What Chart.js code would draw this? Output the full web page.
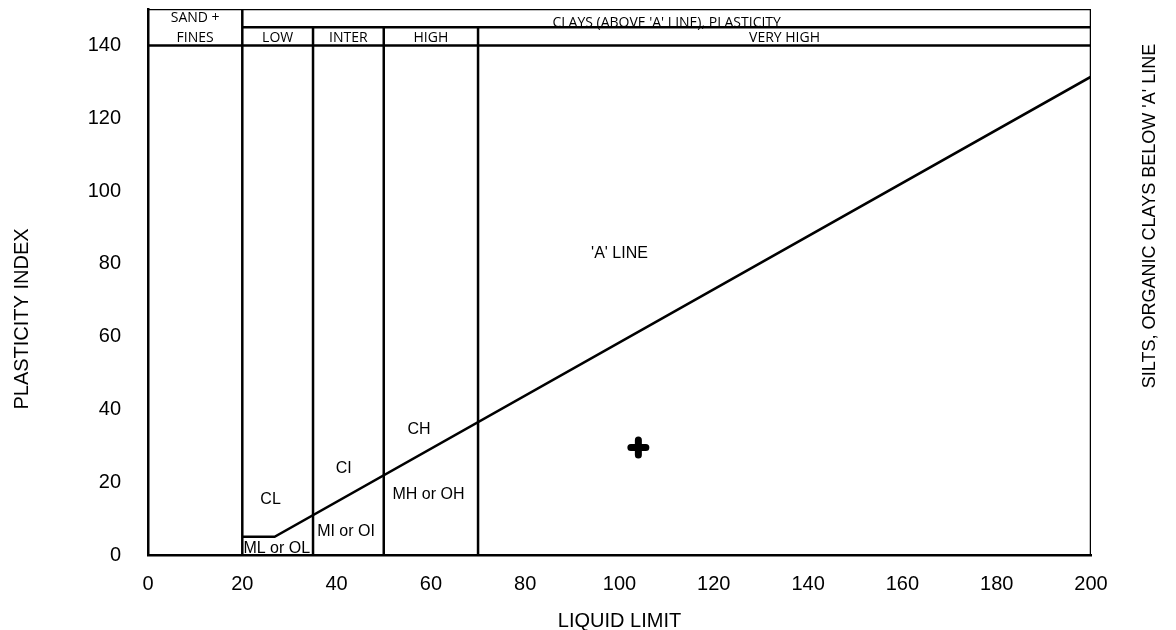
<!DOCTYPE html>
<html>
<head>
<meta charset="utf-8">
<script src="https://cdn.jsdelivr.net/npm/chart.js@4/dist/chart.umd.min.js"></script>
<style>
  body { margin: 0; background: #fff; }
  #wrap { width: 1176px; height: 630px; }
</style>
</head>
<body>
<div id="wrap"><canvas id="plasticity" width="1176" height="630"></canvas></div>
<script>
// axis ticks
const xTicks = [0, 20, 40, 60, 80, 100, 120, 140, 160, 180, 200];
const yTicks = [0, 20, 40, 60, 80, 100, 120, 140];

// 'A' line (liquid limit / plasticity index)
const aLineLL = [20, 26.85, 200];
const aLinePI = [5, 5, 131.4];

// plasticity boundaries on liquid limit
const boundaryLL = [20, 35, 50, 70];

// the tested sample
const sampleLL = [104];
const samplePI = [29.5];

// zone names inside the chart
const zoneNames = ['CL', 'CI', 'CH', 'MH or OH', 'MI or OI', 'ML or OL', "'A' LINE"];
const zoneLL = [26, 41.5, 57.5, 59.5, 42, 27.3, 100];
const zonePI = [15.2, 23.7, 34.5, 16.7, 6.4, 1.7, 82.7];

// header table
const headerNames = ['SAND +', 'FINES', "CLAYS (ABOVE 'A' LINE), PLASTICITY", 'LOW', 'INTER', 'HIGH', 'VERY HIGH'];
const headerLL = [10, 10, 110, 27.5, 42.5, 60, 135];
const headerPI = [147.5, 141.9, 146.1, 141.9, 141.9, 141.9, 141.9];

const seg = (x1, y1, x2, y2) => ({
  data: [{x: x1, y: y1}, {x: x2, y: y2}],
  showLine: true,
  borderColor: '#000',
  borderWidth: 2.5,
  pointRadius: 0,
  fill: false
});

const datasets = [];
// frame + header rows
datasets.push(seg(0, 150, 200, 150));
datasets.push(seg(0, 140, 200, 140));
datasets.push(seg(20, 145, 200, 145));
datasets.push(seg(200, 0, 200, 150));
boundaryLL.forEach((ll, i) => datasets.push(seg(ll, 0, ll, i === 0 ? 150 : 145)));
// 'A' line
datasets.push({
  data: aLineLL.map((x, i) => ({x, y: aLinePI[i]})),
  showLine: true,
  borderColor: '#000',
  borderWidth: 2.5,
  pointRadius: 0,
  fill: false
});
// sample point
datasets.push({
  data: sampleLL.map((x, i) => ({x, y: samplePI[i]})),
  pointStyle: 'cross',
  pointRadius: 7.5,
  pointBorderWidth: 7,
  pointBorderColor: '#000',
  showLine: false,
  isSample: true
});

const labelPlugin = {
  id: 'labels',
  beforeDatasetDraw(chart, args) {
    if (chart.data.datasets[args.index].isSample) chart.ctx.lineCap = 'round';
  },
  afterDraw(chart) {
    const {ctx, scales: {x, y}} = chart;
    ctx.save();
    ctx.fillStyle = '#000';
    ctx.textAlign = 'center';
    ctx.textBaseline = 'middle';
    ctx.font = '16px "Liberation Sans", Arial, sans-serif';
    zoneNames.forEach((t, i) => ctx.fillText(t, x.getPixelForValue(zoneLL[i]), y.getPixelForValue(zonePI[i])));
    ctx.font = '14px "Open Sans", sans-serif';
    headerNames.forEach((t, i) => ctx.fillText(t, x.getPixelForValue(headerLL[i]), y.getPixelForValue(headerPI[i])));
    // axis titles at the sides, reading bottom to top
    ctx.font = '20px "Liberation Sans", Arial, sans-serif';
    ctx.save();
    ctx.translate(22, 319);
    ctx.rotate(-Math.PI / 2);
    ctx.fillText('PLASTICITY INDEX', 0, 0);
    ctx.restore();
    ctx.font = '18px "Liberation Sans", Arial, sans-serif';
    ctx.translate(1150, 216);
    ctx.rotate(-Math.PI / 2);
    ctx.fillText("SILTS, ORGANIC CLAYS BELOW 'A' LINE", 0, 0);
    ctx.restore();
  }
};

const tickFont = {family: '"Liberation Sans", Arial, sans-serif', size: 20};
const titleFont = {family: '"Liberation Sans", Arial, sans-serif', size: 20};

new Chart(document.getElementById('plasticity'), {
  type: 'scatter',
  data: {datasets},
  plugins: [labelPlugin],
  options: {
    responsive: false,
    animation: false,
    layout: {autoPadding: false, padding: {top: 9, right: 85, left: 0, bottom: 0}},
    plugins: {legend: {display: false}, tooltip: {enabled: false}},
    scales: {
      x: {
        type: 'linear',
        min: 0,
        max: 200,
        afterBuildTicks: axis => { axis.ticks = xTicks.map(v => ({value: v})); },
        afterFit: axis => { axis.height = 75; axis.paddingLeft = 0; axis.paddingRight = 0; },
        grid: {display: false, drawTicks: false},
        border: {display: true, color: '#000', width: 2.5},
        ticks: {color: '#000', font: tickFont, padding: 17},
        title: {display: true, text: 'LIQUID LIMIT', color: '#000', font: titleFont, padding: {top: 0, bottom: -3}}
      },
      y: {
        type: 'linear',
        min: 0,
        max: 150,
        afterBuildTicks: axis => { axis.ticks = yTicks.map(v => ({value: v})); },
        afterFit: axis => { axis.width = 148; axis.paddingTop = 0; axis.paddingBottom = 0; },
        grid: {display: false, drawTicks: false},
        border: {display: true, color: '#000', width: 2.5},
        ticks: {color: '#000', font: tickFont, padding: 27}
      }
    }
  }
});
</script>
</body>
</html>
